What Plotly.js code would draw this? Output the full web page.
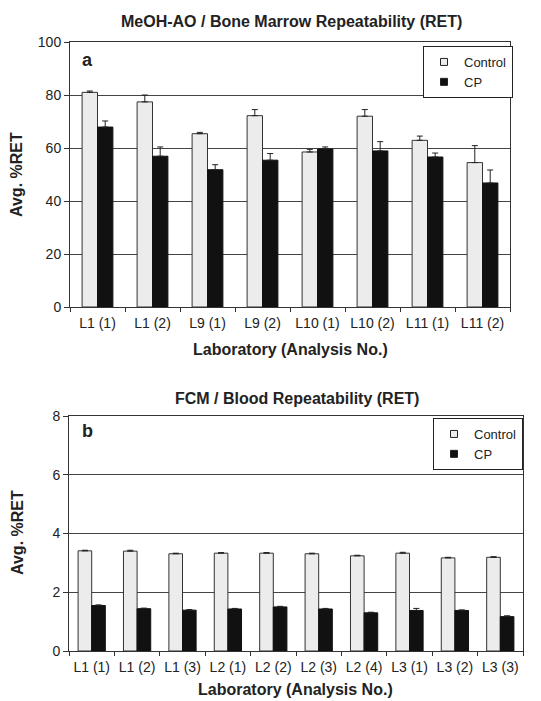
<!DOCTYPE html>
<html><head><meta charset="utf-8">
<script src="https://cdn.plot.ly/plotly-3.0.1.min.js"></script>
<style>html,body{margin:0;padding:0;background:#fff;}#chart{width:541px;height:701px;}</style>
</head><body><div id="chart"></div>
<script>
// Panel a: MeOH-AO / Bone Marrow
const catsA = ["L1 (1)","L1 (2)","L9 (1)","L9 (2)","L10 (1)","L10 (2)","L11 (1)","L11 (2)"];
const controlA = [81, 77.4, 65.4, 72.2, 58.5, 72, 62.9, 54.5];
const controlErrA = [0.5, 2.6, 0.5, 2.3, 1.0, 2.5, 1.6, 6.4];
const cpA = [67.9, 56.9, 51.8, 55.4, 59.6, 58.9, 56.6, 46.8];
const cpErrA = [2.3, 3.5, 1.9, 2.5, 0.8, 3.5, 1.5, 4.9];

// Panel b: FCM / Blood
const catsB = ["L1 (1)","L1 (2)","L1 (3)","L2 (1)","L2 (2)","L2 (3)","L2 (4)","L3 (1)","L3 (2)","L3 (3)"];
const controlB = [3.41, 3.40, 3.31, 3.33, 3.33, 3.31, 3.24, 3.33, 3.17, 3.19];
const controlErrB = [0.02, 0.03, 0.02, 0.02, 0.02, 0.02, 0.02, 0.03, 0.02, 0.02];
const cpB = [1.55, 1.44, 1.39, 1.43, 1.50, 1.43, 1.30, 1.38, 1.38, 1.17];
const cpErrB = [0.02, 0.02, 0.02, 0.02, 0.02, 0.02, 0.02, 0.07, 0.02, 0.03];

const seriesNames = ["Control", "CP"];

const FONT = "Liberation Sans, Arial, sans-serif";
const ctrlFill = "#ececec", cpFill = "#111111";
const zeros = n => new Array(n).fill(0);

function barTrace(name, x, y, err, xa, ya, w, off, fill, line) {
  return {type:"bar", name:name, x:x, y:y, xaxis:xa, yaxis:ya, showlegend:false,
    width:w, offset:off, marker:{color:fill, line:{color:line, width:1}},
    error_y:{type:"data", symmetric:false, array:err, arrayminus:zeros(x.length), color:"#222", thickness:1, width:3}};
}
function legendProxy(name, xa, ya, leg, fill) {
  return {type:"scatter", mode:"markers", name:name, x:[null], y:[null], xaxis:xa, yaxis:ya,
    legend:leg, showlegend:true, marker:{symbol:"square", size:7, color:fill, line:{color:"#222", width:1}}};
}

const traces = [
  barTrace(seriesNames[0], catsA, controlA, controlErrA, "x", "y", 0.28, -0.28, ctrlFill, "#333"),
  barTrace(seriesNames[1], catsA, cpA, cpErrA, "x", "y", 0.28, 0, cpFill, "#111"),
  barTrace(seriesNames[0], catsB, controlB, controlErrB, "x2", "y2", 0.3, -0.3, ctrlFill, "#333"),
  barTrace(seriesNames[1], catsB, cpB, cpErrB, "x2", "y2", 0.3, 0, cpFill, "#111"),
  legendProxy(seriesNames[0], "x", "y", "legend", ctrlFill),
  legendProxy(seriesNames[1], "x", "y", "legend", cpFill),
  legendProxy(seriesNames[0], "x2", "y2", "legend2", ctrlFill),
  legendProxy(seriesNames[1], "x2", "y2", "legend2", cpFill)
];

const W = 541, H = 701;
const py = p => 1 - p / H;
const px = p => p / W;

const xCommon = {type:"category", showline:true, linecolor:"#333", linewidth:1, mirror:true,
  ticks:"outside", tickson:"boundaries", ticklen:4, tickcolor:"#333", showgrid:false,
  ticklabelstandoff:3, tickangle:0,
  tickfont:{family:FONT, size:14, color:"#222"}, fixedrange:true};
const yCommon = {showline:true, linecolor:"#333", linewidth:1, mirror:true,
  ticks:"outside", ticklen:5, tickcolor:"#333", showgrid:true, gridcolor:"#444", gridwidth:1,
  zeroline:false, tickfont:{family:FONT, size:14, color:"#222"}, fixedrange:true};

const legendCommon = {bgcolor:"#fff", bordercolor:"#222", borderwidth:1,
  font:{family:FONT, size:13, color:"#222"}, xanchor:"left", yanchor:"top",
  tracegroupgap:0, itemwidth:30};

const ann = (text, x, y, size, extra) => Object.assign({text:text, xref:"paper", yref:"paper",
  x:px(x), y:py(y), xanchor:"center", yanchor:"middle", showarrow:false,
  font:{family:FONT, size:size, color:"#222"}}, extra || {});

const layout = {
  width:W, height:H, margin:{l:0, r:0, t:0, b:0},
  paper_bgcolor:"#fff", plot_bgcolor:"#fff", barmode:"overlay",
  showlegend:true,
  xaxis: Object.assign({}, xCommon, {domain:[px(70), px(510)], anchor:"y", range:[-0.5, 7.5]}),
  yaxis: Object.assign({}, yCommon, {domain:[py(307), py(42)], anchor:"x", range:[0, 100], dtick:20}),
  xaxis2: Object.assign({}, xCommon, {domain:[px(69), px(523)], anchor:"y2", range:[-0.5, 9.5]}),
  yaxis2: Object.assign({}, yCommon, {domain:[py(651), py(416)], anchor:"x2", range:[0, 8], dtick:2}),
  legend: Object.assign({}, legendCommon, {x:px(423), y:py(46)}),
  legend2: Object.assign({}, legendCommon, {x:px(433), y:py(418)}),
  annotations: [
    ann("<b>MeOH-AO / Bone Marrow Repeatability (RET)</b>", 291, 21, 16),
    ann("<b>FCM / Blood Repeatability (RET)</b>", 297, 398, 16),
    ann("<b>a</b>", 87, 60, 18),
    ann("<b>b</b>", 87, 431, 18),
    ann("<b>Avg. %RET</b>", 16, 175, 16, {textangle:-90}),
    ann("<b>Avg. %RET</b>", 17, 533, 16, {textangle:-90}),
    ann("<b>Laboratory (Analysis No.)</b>", 290, 349, 16),
    ann("<b>Laboratory (Analysis No.)</b>", 295, 689, 16)
  ]
};

Plotly.newPlot("chart", traces, layout, {displayModeBar:false, staticPlot:true});
</script>
</body></html>
